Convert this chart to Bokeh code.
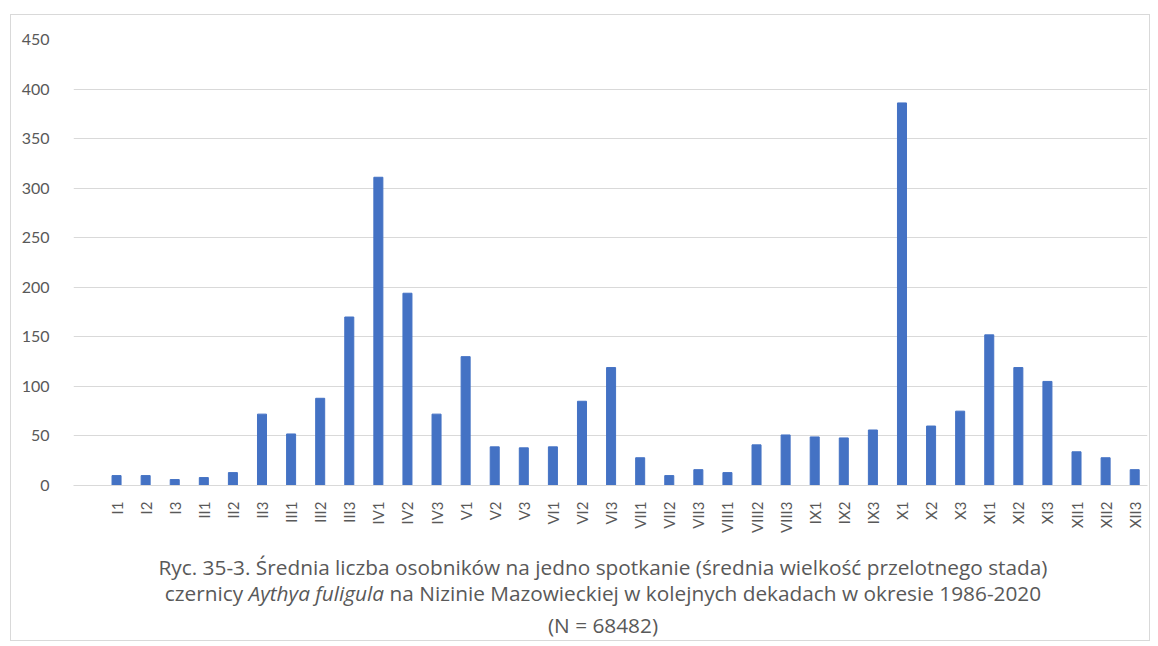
import math
from bokeh.plotting import figure
from bokeh.models import Range1d, FixedTicker, Div
from bokeh.layouts import column
from bokeh.embed import file_html
from bokeh.resources import INLINE

categories = ["I1", "I2", "I3", "II1", "II2", "II3", "III1", "III2", "III3",
              "IV1", "IV2", "IV3", "V1", "V2", "V3", "VI1", "VI2", "VI3",
              "VII1", "VII2", "VII3", "VIII1", "VIII2", "VIII3", "IX1", "IX2", "IX3",
              "X1", "X2", "X3", "XI1", "XI2", "XI3", "XII1", "XII2", "XII3"]
values = [10, 10, 6, 8, 13, 72, 52, 88, 170,
          311, 194, 72, 130, 39, 38, 39, 85, 119,
          28, 10, 16, 13, 41, 51, 49, 48, 56,
          386, 60, 75, 152, 119, 105, 34, 28, 16]
y_ticks = [0, 50, 100, 150, 200, 250, 300, 350, 400, 450]

caption1 = "Ryc. 35-3. Średnia liczba osobników na jedno spotkanie (średnia wielkość przelotnego stada)"
caption2a = "czernicy "
caption2b = "Aythya fuligula"
caption2c = " na Nizinie Mazowieckiej w kolejnych dekadach w okresie 1986-2020"
caption3 = "(N = 68482)"

FONT = "Lato"
CAPTION_FONT = "Open Sans"
GREY = "#595959"

xs = list(range(len(categories)))

W = 1138
p = figure(width=W, height=530, output_backend="svg", toolbar_location=None,
           x_range=Range1d(-1.48, 35.44), y_range=Range1d(0, 450),
           min_border_left=62, min_border_right=2, min_border_top=24, min_border_bottom=60)
p.outline_line_color = None
p.background_fill_color = "white"
p.border_fill_color = "white"

p.vbar(x=xs, top=values, width=0.31, color="#4472C4")

p.xgrid.grid_line_color = None
p.ygrid.grid_line_color = "#d9d9d9"
p.ygrid.grid_line_width = 1
p.ygrid.ticker = FixedTicker(ticks=y_ticks)

p.yaxis.ticker = FixedTicker(ticks=y_ticks)
p.yaxis.axis_line_color = None
p.yaxis.major_tick_line_color = None
p.yaxis.minor_tick_line_color = None
p.yaxis.major_label_text_font = FONT
p.yaxis.major_label_text_font_size = "16px"
p.yaxis.major_label_text_color = GREY
p.yaxis.major_label_standoff = 18

p.xaxis.ticker = FixedTicker(ticks=xs)
p.xaxis.major_label_overrides = {i: c for i, c in zip(xs, categories)}
p.xaxis.major_label_orientation = math.pi / 2
p.xaxis.axis_line_color = "#d9d9d9"
p.xaxis.major_tick_line_color = None
p.xaxis.minor_tick_line_color = None
p.xaxis.major_label_text_font = FONT
p.xaxis.major_label_text_font_size = "15px"
p.xaxis.major_label_text_color = GREY
p.xaxis.major_label_standoff = 10

line_style = "height:26px; line-height:26px; white-space:nowrap;"
caption_html = (
    f'<div style="position:relative; left:23px; width:{W}px; text-align:center; '
    f'font-family:\'{CAPTION_FONT}\'; font-size:20.8px; color:{GREY}; padding-top:9px;">'
    f'<div style="{line_style}">{caption1}</div>'
    f'<div style="{line_style}">{caption2a}<i>{caption2b}</i>{caption2c}</div>'
    f'<div style="{line_style} margin-top:6px;">{caption3}</div>'
    '</div>'
)
caption = Div(text=caption_html, width=W, height=95, margin=(0, 0, 0, 0))

layout = column(p, caption, spacing=0, margin=(14, 0, 0, 10),
                styles={"border": "1px solid #d9d9d9", "background": "white"})

open("out.html", "w").write(file_html(layout, INLINE))
